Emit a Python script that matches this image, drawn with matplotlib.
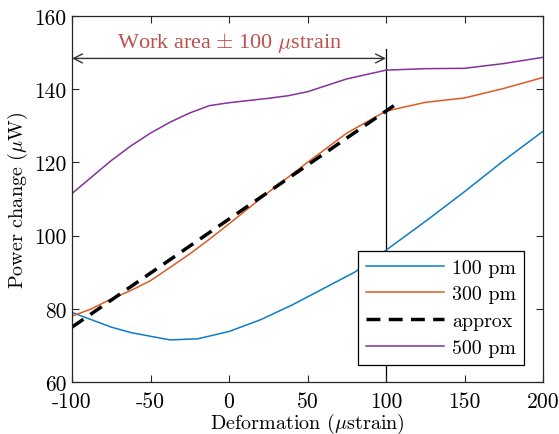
import numpy as np
import matplotlib
matplotlib.use("Agg")
import matplotlib.pyplot as plt

plt.rcParams['font.family'] = 'serif'
plt.rcParams['font.serif'] = ['cmr10', 'DejaVu Serif']
plt.rcParams['mathtext.fontset'] = 'cm'
plt.rcParams['axes.unicode_minus'] = False

# curves
x_100 = [-100, -87.5, -75, -62.5, -50, -37.5, -20, -10, 0, 20, 40, 60, 80, 100, 127, 150, 175, 200]
y_100 = [79, 77, 75, 73.5, 72.5, 71.5, 71.8, 72.8, 73.8, 77, 81, 85.5, 90, 96, 104.5, 112, 120.5, 128.5]

x_300 = [-100, -87.5, -75, -62.5, -50, -37.5, -25, -12.5, 0, 25, 50, 75, 100, 125, 150, 175, 200]
y_300 = [78, 80, 82.7, 85, 87.7, 91.3, 95, 99, 103.2, 111.8, 120, 128, 134, 136.4, 137.6, 140.2, 143.2]

x_approx = [-100, 105]
y_approx = [75, 135.5]

x_500 = [-100, -87.5, -75, -62.5, -50, -37.5, -25, -12.5, 0, 25, 37.5, 50, 75, 100, 125, 150, 175, 200]
y_500 = [111.5, 116, 120.5, 124.5, 128, 131, 133.5, 135.5, 136.3, 137.5, 138.2, 139.3, 142.8, 145.2, 145.6, 145.7, 147, 148.7]

xticks = [-100, -50, 0, 50, 100, 150, 200]
yticks = [60, 80, 100, 120, 140, 160]

fig = plt.figure(figsize=(5.59, 4.35), dpi=100)
ax = fig.add_axes([0.1288, 0.1195, 0.8426, 0.8415])

ax.plot(x_100, y_100, color='#0C7CC8', lw=1.1, label='100 pm')
ax.plot(x_300, y_300, color='#DE5A22', lw=1.1, label='300 pm')
ax.plot(x_approx, y_approx, color='black', lw=2.5, ls=(0, (4, 2.4)), label='approx')
ax.plot(x_500, y_500, color='#83339A', lw=1.1, label='500 pm')

# work area annotation
ax.plot([100, 100], [60, 151], color='black', lw=0.9, zorder=1)
ax.annotate('', xy=(-100, 148.4), xytext=(100, 148.4),
            arrowprops=dict(arrowstyle='<->', color='#333333', lw=1.0,
                            mutation_scale=16, shrinkA=0, shrinkB=0))
ax.text(0.5, 152.9, r'Work area $\pm$ 100 $\mu$strain', color='#C0504D',
        fontsize=16, family='Liberation Serif', ha='center', va='center')

ax.set_xlim(-100, 200)
ax.set_ylim(60, 160)
ax.set_xticks(xticks)
ax.set_xticklabels([str(t) for t in xticks])
ax.set_yticks(yticks)
ax.set_yticklabels([str(t) for t in yticks])
ax.tick_params(direction='in', top=True, right=True, length=5, labelsize=15.5,
               color='#262626')
ax.tick_params(axis='x', pad=7)
ax.tick_params(axis='y', pad=4)
for s in ax.spines.values():
    s.set_color('#262626')
    s.set_linewidth(0.9)

ax.set_xlabel(r'Deformation ($\mu$strain)', fontsize=14.5, labelpad=0)
ax.set_ylabel(r'Power change ($\mu$W)', fontsize=14.5, labelpad=3)

leg = ax.legend(loc='lower right', bbox_to_anchor=(0.96, 0.046), fontsize=14.3,
                handlelength=3.95, labelspacing=0.45, fancybox=False, framealpha=1,
                edgecolor='black', borderpad=0.4, handletextpad=0.4, borderaxespad=0)
leg.get_frame().set_linewidth(0.9)
leg.set_zorder(5)

fig.savefig('out.png', dpi=100)
